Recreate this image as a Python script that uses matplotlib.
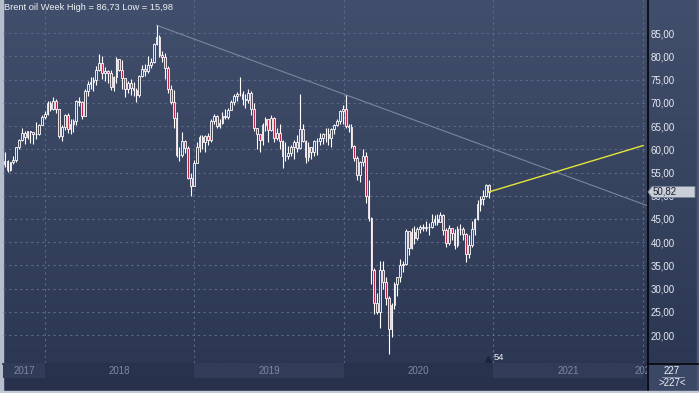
import matplotlib
matplotlib.use('Agg')
import matplotlib.pyplot as plt
import matplotlib.dates as mdates
from matplotlib.colors import LinearSegmentedColormap
from matplotlib.patches import Rectangle, Polygon
import numpy as np
import pandas as pd

plt.rcParams['font.family'] = ['Liberation Sans', 'DejaVu Sans']

# weekly Brent candles, week starting 2017-09-25
start_week = '2017-09-25'
first_open = 56.8
closes = [57.5, 55.6, 57.2, 57.8, 60.4, 62.1, 63.5, 62.7, 63.9, 63.7, 63.4, 63.2, 65.3, 66.9,
          67.6, 69.9, 68.6, 70.5, 68.6, 62.8, 64.8, 67.3, 64.4, 65.5, 66.2, 70.5, 70.3, 67.1,
          72.6, 74.1, 74.6, 74.9, 77.1, 78.5, 76.4, 76.8, 76.5, 73.4, 75.6, 79.4, 77.1, 75.3,
          73.1, 74.3, 73.2, 72.8, 71.8, 75.8, 77.4, 76.8, 78.1, 78.8, 82.7, 84.2, 80.4, 79.8,
          77.6, 73.0, 70.2, 66.8, 58.8, 58.7, 61.7, 60.3, 53.8, 52.2, 57.1,
          60.5, 62.7, 61.6, 62.8, 62.0, 66.2, 67.1, 65.1, 65.7, 67.2, 67.0, 68.4, 70.3, 71.5,
          71.9, 72.0, 70.8, 70.6, 72.2, 68.7, 64.5, 63.3, 62.0, 65.2, 66.5, 64.2, 66.7, 62.5,
          63.5, 61.9, 58.5, 58.6, 59.3, 60.4, 61.5, 60.2, 64.3, 61.9, 58.4, 60.5, 59.4, 61.7,
          61.7, 62.5, 63.3, 63.4, 62.4, 64.4, 65.2, 66.1, 68.2, 68.6,
          65.0, 64.9, 60.7, 58.2, 54.5, 57.3, 58.5, 50.0, 45.3, 33.9, 27.0, 25.0, 34.0, 31.5,
          28.0, 21.4, 26.4, 31.0, 32.5, 35.1, 35.3, 42.3, 38.7, 42.2, 41.0, 42.8, 43.2, 43.1,
          43.3, 43.3, 44.4, 45.0, 44.4, 45.8, 42.7, 39.8, 43.1, 41.9, 39.3, 42.8, 42.9, 41.8,
          37.5, 39.4, 42.8, 44.9, 48.2, 49.3, 50.0, 52.3, 50.82]
highs = [59.5, 57.6, 57.3, 58.5, 60.5, 62.3, 64.7, 64.0, 64.0, 64.0, 63.8, 65.8, 65.5, 67.3,
         68.3, 70.4, 70.4, 71.3, 70.9, 68.7, 65.2, 67.7, 67.9, 66.5, 66.5, 70.7, 71.3, 70.5,
         73.1, 74.8, 75.5, 75.6, 78.0, 80.5, 80.0, 77.8, 77.0, 77.1, 75.8, 79.9, 79.5, 79.2,
         75.0, 74.8, 75.2, 74.6, 73.3, 76.0, 78.2, 78.3, 80.1, 79.6, 82.9, 86.73, 84.7, 81.2,
         80.7, 77.9, 73.9, 72.7, 68.0, 60.5, 63.7, 62.1, 60.7, 55.0, 57.6,
         61.5, 63.0, 63.0, 63.0, 63.5, 66.5, 67.7, 67.5, 66.5, 68.0, 68.7, 69.0, 70.6, 72.0,
         72.3, 75.6, 72.5, 72.0, 73.0, 72.5, 70.0, 64.0, 63.0, 65.7, 67.0, 66.5, 67.5, 67.0,
         64.5, 65.5, 62.0, 61.5, 60.8, 61.0, 62.0, 63.0, 71.9, 65.5, 62.0, 61.5, 60.5, 62.0,
         62.5, 63.5, 63.5, 64.5, 64.5, 64.5, 65.5, 66.5, 68.5, 69.5,
         71.75, 65.5, 65.5, 61.0, 58.5, 57.5, 60.0, 59.5, 53.5, 45.5, 34.5, 29.0, 36.0, 36.0,
         32.5, 28.5, 27.0, 31.5, 32.6, 36.4, 35.9, 42.8, 42.4, 43.0, 43.4, 43.3, 43.6, 44.0,
         44.5, 44.2, 46.0, 45.8, 46.0, 46.5, 46.0, 43.0, 43.6, 43.0, 42.9, 43.5, 43.9, 43.3,
         41.9, 41.5, 44.5, 45.2, 49.0, 49.9, 51.2, 52.5, 52.5]
lows = [56.3, 55.2, 55.4, 56.8, 57.3, 60.0, 61.8, 61.1, 62.2, 61.3, 61.2, 62.2, 63.0, 65.2,
        66.5, 67.5, 68.2, 68.5, 67.9, 62.5, 61.8, 64.2, 63.5, 63.4, 63.8, 65.2, 69.3, 66.6,
        67.2, 71.4, 73.1, 72.5, 73.8, 76.8, 75.1, 74.8, 74.2, 72.8, 72.5, 74.3, 76.8, 73.0,
        71.2, 72.2, 71.8, 71.4, 70.3, 71.2, 75.6, 75.8, 76.5, 77.6, 78.6, 82.5, 79.9, 78.9,
        75.1, 72.2, 69.7, 64.6, 58.4, 57.5, 58.4, 59.3, 53.6, 50.0, 52.5,
        57.0, 59.5, 60.0, 59.5, 61.0, 61.5, 65.5, 64.5, 64.5, 65.5, 66.5, 66.5, 68.5, 69.5,
        70.5, 71.5, 69.5, 69.0, 70.0, 67.5, 64.0, 60.0, 59.5, 61.0, 64.0, 61.5, 64.0, 61.5,
        62.0, 60.0, 55.9, 57.5, 58.0, 58.5, 58.0, 59.5, 60.0, 61.5, 57.1, 57.5, 58.0, 58.5,
        58.8, 61.0, 61.2, 61.5, 61.0, 60.5, 63.2, 65.0, 65.5, 65.5,
        64.5, 63.7, 60.3, 57.5, 53.5, 53.0, 56.5, 48.4, 44.5, 31.0, 24.5, 24.5, 21.6, 30.0,
        26.5, 15.98, 19.5, 25.5, 28.5, 31.5, 33.5, 35.0, 37.2, 38.5, 39.5, 40.5, 42.0, 42.3,
        42.5, 41.5, 43.0, 43.8, 43.8, 44.5, 41.5, 39.0, 39.3, 40.5, 38.6, 39.0, 41.5, 40.5,
        35.7, 36.6, 39.0, 41.5, 44.8, 46.8, 48.0, 49.8, 49.5]

years = [2017, 2018, 2019, 2020, 2021, 2022]
yticks = [20, 25, 30, 35, 40, 45, 50, 55, 60, 65, 70, 75, 80, 85]
ytick_labels = [f'{v:.2f}'.replace('.', ',') for v in yticks]
title = 'Brent oil Week High = 86,73 Low = 15,98'
last_label = '50,82'
trend_points = [('2018-10-01', 86.73), ('2020-01-06', 71.75)]
yellow_points = [('2020-12-21', 50.82), ('2022-01-01', 60.8)]
marker_date, marker_text = '2021-01-01', '54'
counter_top, counter_bottom = '227', '>227<'

W, H = 699, 393
fig = plt.figure(figsize=(W / 100, H / 100), dpi=100)

# background and frame, drawn in pixel coordinates
bg = fig.add_axes([0, 0, 1, 1])
bg.set_xlim(0, W)
bg.set_ylim(H, 0)
bg.axis('off')
cmap = LinearSegmentedColormap.from_list('bg', ['#424f6c', '#2c3853'])
bg.imshow(np.linspace(0, 1, 256)[:, None], extent=[0, W, 363, 0], aspect='auto', cmap=cmap)
bg.add_patch(Rectangle((0, 363), W, 28, color='#27314b'))
bg.add_patch(Rectangle((647, 363), 50, 27, color='#3a4765'))
bg.add_patch(Rectangle((0, 0), 2.5, H, color='#b6becb'))
bg.add_patch(Rectangle((697, 0), 2, H, color='#4b5877'))
bg.add_patch(Rectangle((0, 390.5), W, 3, color='#c3cad5'))
bg.plot([3, W], [363.5, 363.5], color='black', lw=1.1)
bg.plot([647.5, 647.5], [0, 390], color='black', lw=1.1)
bg.plot([662, 684], [377, 377], color='#9aa4b6', lw=0.6)
bg.text(672, 371, counter_top, ha='center', va='center', fontsize=7, color='#eef1f5')
bg.text(672, 383.5, counter_bottom, ha='center', va='center', fontsize=7, color='#eef1f5')
bg.text(4, 8, title, ha='left', va='center', fontsize=6.7, color='#eef1f5')

xmin, xmax = pd.Timestamp('2017-09-21'), pd.Timestamp('2022-01-11')

ax = fig.add_axes([3 / W, 30 / H, 644 / W, 363 / H])
ax.set_facecolor('none')
for s in ax.spines.values():
    s.set_visible(False)
ax.set_xlim(xmin, xmax)
ax.set_ylim(13.97, 92.17)

dates = pd.date_range(start_week, periods=len(closes), freq='7D')
x = mdates.date2num(dates)
c = np.array(closes)
o = np.array([first_open] + closes[:-1])
hi = np.maximum(np.array(highs), np.maximum(o, c))
lo = np.minimum(np.array(lows), np.minimum(o, c))
face = np.where(c >= o, '#3b4863', '#b82a48')

ax.vlines(x, lo, hi, color='white', lw=0.8, zorder=3)
ax.bar(x, c - o, bottom=o, width=4.2, color=face, edgecolor='white', linewidth=0.6, zorder=4)

# trend line from the 2018 high through the 2020 high, extended to the edge
(d1, v1), (d2, v2) = trend_points
x1, x2 = mdates.date2num(pd.Timestamp(d1)), mdates.date2num(pd.Timestamp(d2))
x_end = mdates.date2num(xmax)
v_end = v1 + (v2 - v1) / (x2 - x1) * (x_end - x1)
ax.plot([x1, x_end], [v1, v_end], color='#7b869d', lw=0.8, zorder=2)

ax.plot([pd.Timestamp(d) for d, _ in yellow_points], [v for _, v in yellow_points],
        color='#e4e43a', lw=1.0, zorder=5)

# axes, grid
ax.yaxis.tick_right()
ax.set_yticks(yticks)
ax.set_yticklabels(ytick_labels)
ax.tick_params(axis='y', length=0, pad=2.5, labelsize=7, labelcolor='#e6eaf0')
ax.set_xticks([pd.Timestamp(f'{yr}-01-01') for yr in years[1:]])
ax.tick_params(axis='x', length=0, labelbottom=False)
ax.grid(True, color='#5d6b88', linestyle=(0, (2, 3)), lw=0.8)
ax.set_axisbelow(True)

# last price label
tr = ax.get_yaxis_transform()
px = 1 / 644
py = 5.5 / 4.642
lv = closes[-1]
box = Polygon([(1 + 1 * px, lv), (1 + 5 * px, lv + py), (1 + 48 * px, lv + py),
               (1 + 48 * px, lv - py), (1 + 5 * px, lv - py)], closed=True,
              transform=tr, clip_on=False, facecolor='#c9ced7', edgecolor='#79829a', lw=0.6, zorder=6)
ax.add_patch(box)
ax.text(1 + 6 * px, lv, last_label, transform=tr, ha='left', va='center', fontsize=7,
        color='#1b2030', clip_on=False, zorder=7)

# small marker bottom
md = pd.Timestamp(marker_date)
ax.text(md, 6 / 363, marker_text, transform=ax.get_xaxis_transform(), ha='left', va='center',
        fontsize=6.8, color='#eef1f5')
ax.plot([md - pd.Timedelta(days=14)], [4 / 363], marker='^', ms=4, color='#1d2438',
        transform=ax.get_xaxis_transform(), clip_on=False)

# year band under the chart
axd = fig.add_axes([3 / W, 15 / H, 644 / W, 15 / H])
axd.set_xlim(xmin, xmax)
axd.set_ylim(0, 1)
axd.axis('off')
for k, yr in enumerate(years):
    a = max(pd.Timestamp(f'{yr}-01-01'), xmin)
    b = min(pd.Timestamp(f'{yr + 1}-01-01'), xmax)
    if b <= a:
        continue
    axd.axvspan(a, b, color='#313c58' if k % 2 == 0 else '#28324d', lw=0)
    axd.text(a + (b - a) / 2, 0.45, str(yr), ha='center', va='center', fontsize=7,
             color='#7d89a2', clip_on=True)

fig.savefig('out.png', dpi=100)
